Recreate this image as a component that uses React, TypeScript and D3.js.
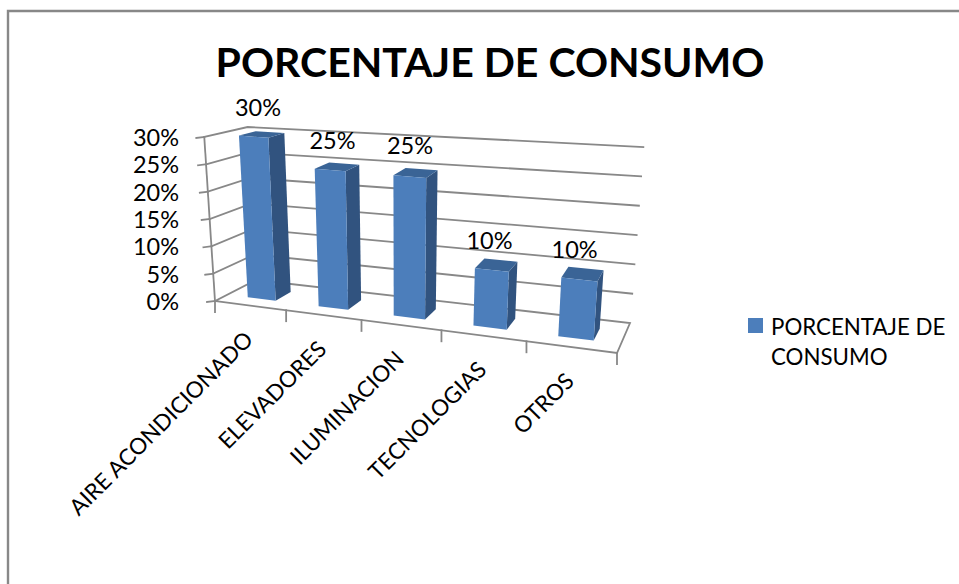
import React from "react";
import * as d3 from "d3";

const categories = ["AIRE ACONDICIONADO", "ELEVADORES", "ILUMINACION", "TECNOLOGIAS", "OTROS"];
const shares = [0.3, 0.25, 0.25, 0.1, 0.1];
const valueTicks = [0, 0.05, 0.1, 0.15, 0.2, 0.25, 0.3];
const titleText = "PORCENTAJE DE CONSUMO";
const legendLines = ["PORCENTAJE DE", "CONSUMO"];

const WIDTH = 959;
const HEIGHT = 584;
const GRID = "#888888";
const FONT = "Lato, Carlito, Calibri, sans-serif";

type P = [number, number];

// Plot floor corners: f = front edge, b = back edge; 0 = left, 1 = right.
const f0: P = [215, 301];
const f1: P = [617, 353];
const b0: P = [256, 280];
const b1: P = [630, 323];
// Pixel height of the full value axis at the same four corners.
const hF0 = 164, hF1 = 180, hB0 = 153, hB1 = 176;
const VANISH_X = 400;
const LEAN = 0.058;

const band = d3.scaleBand<number>().domain(d3.range(categories.length)).range([0, 1]).paddingInner(0).paddingOuter(0);
const valueFrac = d3.scaleLinear().domain([0, 0.3]).range([0, 1]);
const warp = (u: number) => (0.86 * u) / (1 + u * -0.14);

// Projects (u along categories, v into depth, value) onto the page.
function project(u: number, v: number, value: number): P {
  const t = warp(u);
  const x0 = f0[0] + (f1[0] - f0[0]) * t;
  const y0 = f0[1] + (f1[1] - f0[1]) * t;
  const x1 = b0[0] + (b1[0] - b0[0]) * t;
  const y1 = b0[1] + (b1[1] - b0[1]) * t;
  const x = x0 + (x1 - x0) * v;
  const y = y0 + (y1 - y0) * v;
  const hFront = hF0 + (hF1 - hF0) * t;
  const hBack = hB0 + (hB1 - hB0) * t;
  const h = hFront + (hBack - hFront) * v;
  const s = valueFrac(value);
  return [x + (x - VANISH_X) * LEAN * s, y - h * s];
}

const poly = d3.line<P>().x((d) => d[0]).y((d) => d[1]);
const closed = (pts: P[]) => (poly(pts) ?? "") + "Z";

export default function App() {
  const uStep = band.step();
  return (
    <svg
      width={WIDTH}
      height={HEIGHT}
      viewBox={`0 0 ${WIDTH} ${HEIGHT}`}
      style={{ position: "absolute", left: 0, top: 0, background: "#fff" }}
      fontFamily={FONT}
      fill="#000"
    >
      {/* chart frame */}
      <path d={`M8 ${HEIGHT}V11H${WIDTH}`} fill="none" stroke={GRID} strokeWidth={2.4} />

      <text x={490} y={77} textAnchor="middle" fontSize={41} fontWeight={700}>{titleText}</text>

      {/* value lines across the back and side walls */}
      <g stroke={GRID} strokeWidth={1.8} fill="none" strokeLinecap="square">
        {valueTicks.map((tick) => {
          const pts: P[] = [project(0, 0, tick), project(0, 1, tick), project(1, 1, tick)];
          if (tick === 0) pts.push(project(1, 0, 0), project(0, 0, 0));
          return <path key={tick} d={poly(pts) ?? ""} />;
        })}
        <path d={poly([project(0, 0, 0), project(0, 0, 0.3)]) ?? ""} />
        {valueTicks.map((tick) => {
          const p = project(0, 0, tick);
          return <path key={`t${tick}`} d={`M${p[0] - 8} ${p[1] + 1}L${p[0]} ${p[1]}`} />;
        })}
        {d3.range(categories.length + 1).map((i) => {
          const p = project(i / categories.length, 0, 0);
          return <path key={`c${i}`} d={`M${p[0]} ${p[1]}V${p[1] + 11}`} />;
        })}
      </g>

      {/* value axis labels */}
      {valueTicks.map((tick) => {
        const p = project(0, 0, tick);
        return (
          <text key={tick} x={179} y={p[1] + 9} textAnchor="end" fontSize={23.5}>
            {d3.format(".0%")(tick)}
          </text>
        );
      })}

      {/* columns */}
      {categories.map((_, i) => {
        const start = band(i)! + uStep * 0.3;
        const end = band(i)! + uStep * 0.7;
        const val = shares[i];
        const fl = project(start, 0.3, 0), fr = project(end, 0.3, 0), br = project(end, 0.7, 0);
        const tl = project(start, 0.3, val), tr = project(end, 0.3, val);
        const trb = project(end, 0.7, val), tlb = project(start, 0.7, val);
        const labelAt = project((start + end) / 2, 0.7, val * 1.055);
        return (
          <g key={i}>
            <path d={closed([tr, trb, br, fr])} fill="#31537f" />
            <path d={closed([tl, tr, trb, tlb])} fill="#3a6496" />
            <path d={closed([tl, tr, fr, fl])} fill="#4c7ebb" />
            <text x={labelAt[0] - 11.5} y={labelAt[1] - 7.5} textAnchor="middle" fontSize={23.5}>
              {d3.format(".0%")(val)}
            </text>
          </g>
        );
      })}

      {/* category labels */}
      {categories.map((name, i) => {
        const p = project((i + 0.5) / categories.length, 0, 0);
        return (
          <text
            key={name}
            transform={`translate(${p[0] + 4.5},${p[1] + 35.5}) rotate(-45)`}
            textAnchor="end"
            fontSize={22.5}
          >
            {name}
          </text>
        );
      })}

      {/* legend */}
      <rect x={748} y={318} width={15} height={15} fill="#4c7ebb" />
      {legendLines.map((line, i) => (
        <text key={line} x={771} y={335 + i * 30} fontSize={22.3}>{line}</text>
      ))}
    </svg>
  );
}
